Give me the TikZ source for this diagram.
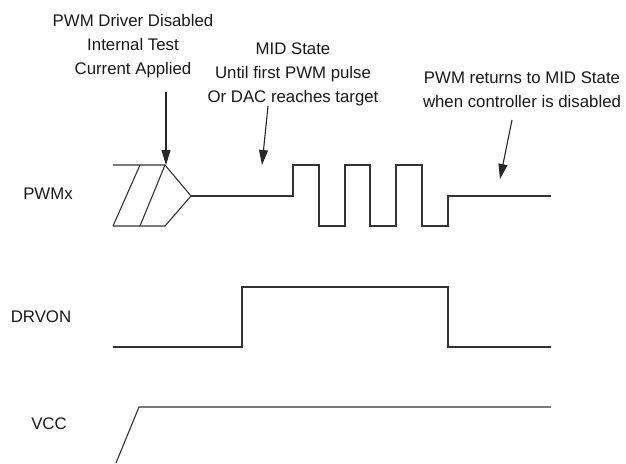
\documentclass[tikz,border=0pt]{standalone}
\usepackage{fontspec}
\newfontfamily\lblfont{Liberation Sans}
\usetikzlibrary{arrows.meta}

\begin{document}
\begin{tikzpicture}[x=1pt,y=-1pt,
  wave/.style={black!80, line width=1.1pt},
  lbl/.style={font=\lblfont\fontsize{16.8}{24}\selectfont, align=center, inner sep=0pt, text=black!90},
  pointer/.style={black!85, line width=1.1pt, -{Triangle[length=15pt,width=9pt]}}]
\useasboundingbox (0,0) rectangle (626,463);

% notes on top
\node[lbl] (drvtxt) at (133,46) {PWM Driver Disabled\\Internal Test\\Current Applied};
\node[lbl] (midtxt) at (293,74) {MID State\\Until first PWM pulse\\Or DAC reaches target};
\node[lbl] (rettxt) at (522,90) {PWM returns to MID State\\when controller is disabled};

% signal names
\node[lbl] (pwmlbl) at (48,194) {PWMx};
\node[lbl] (drvlbl) at (41,317) {DRVON};
\node[lbl] (vcclbl) at (49,424) {VCC};

% PWMx
\draw[wave] (113,165) -- (165,165) -- (191,196) -- (165,226) -- (113,226);
\draw[wave] (113,226) -- (140,165);
\draw[wave] (140,226) -- (165,165);
\draw[wave] (191,196) -- (293,196) -- (293,165) -- (319,165) -- (319,226) -- (345,226)
  -- (345,165) -- (370,165) -- (370,226) -- (396,226) -- (396,165) -- (422,165)
  -- (422,226) -- (448,226) -- (448,196) -- (551,196);

% DRVON
\draw[wave] (113,347) -- (242,347) -- (242,287) -- (448,287) -- (448,347) -- (551,347);

% VCC
\draw[wave] (116,463) -- (139,407) -- (551,407);

% pointers
\coordinate (drvtail) at (166,92);
\coordinate (drvtip) at (166,165);
\draw[pointer] (drvtail) -- (drvtip);
\coordinate (midtail) at (268,106);
\coordinate (midtip) at (262,165);
\draw[pointer] (midtail) -- (midtip);
\coordinate (rettail) at (512,120);
\coordinate (rettip) at (500,179);
\draw[pointer] (rettail) -- (rettip);

\end{tikzpicture}
\end{document}
